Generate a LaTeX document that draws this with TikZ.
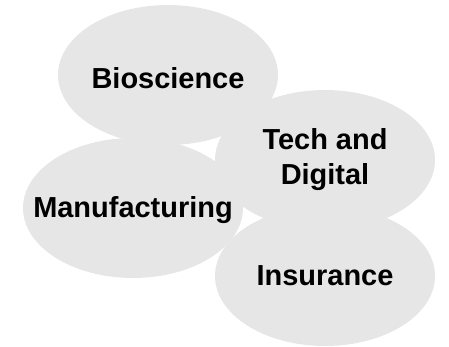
\documentclass[tikz,border=0pt]{standalone}
\usepackage{fontspec}
\setmainfont{Liberation Sans}
\usetikzlibrary{shapes.geometric}
\usepackage[rgb]{xcolor}
\definecolor{bubble}{HTML}{E6E6E6}
\definecolor{txt}{HTML}{000000}

\tikzset{
  sector/.style={ellipse, fill=bubble, draw=none, inner sep=0pt,
    minimum width=5.5cm, minimum height=3.5cm},
  sectorname/.style={align=center, inner sep=0pt, text=txt,
    font=\fontsize{20.6}{25}\selectfont\bfseries}
}

\begin{document}
\begin{tikzpicture}

  \useasboundingbox (0,0) rectangle (11.225,8.65);

  % bubbles
  \node[sector] (bio) at (4.2,6.775) {};
  \node[sector] (tech) at (8.125,4.65) {};
  \node[sector] (manu) at (3.325,3.45) {};
  \node[sector] (ins) at (8.125,1.75) {};

  % names
  \node[sectorname] (biotext) at ([yshift=-0.07cm]bio) {Bioscience};
  \node[sectorname] (techtext) at (tech) {Tech and\\Digital};
  \node[sectorname] (manutext) at ([yshift=-0.05cm]manu) {Manufacturing};
  \node[sectorname] (instext) at (ins) {Insurance};

\end{tikzpicture}
\end{document}
